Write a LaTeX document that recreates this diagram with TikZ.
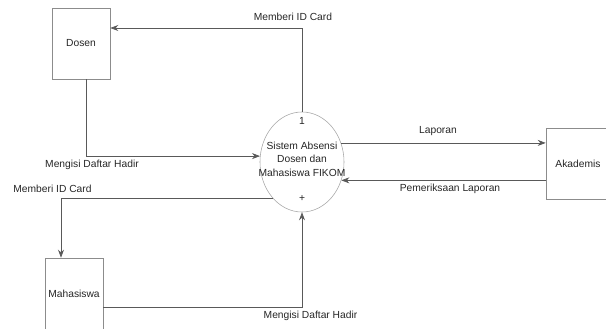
\documentclass[tikz,border=0pt]{standalone}
\usepackage{fontspec}
\setmainfont{Liberation Sans}
\usetikzlibrary{arrows.meta, calc, positioning, shapes.geometric}

\begin{document}
\begin{tikzpicture}[
    x=0.025cm, y=-0.025cm,
    font=\fontsize{7.3}{9}\selectfont,
    entity/.style={
        draw=black!45, fill=white,
        minimum width=1.45cm, minimum height=1.775cm,
        inner sep=0pt, align=center, text=black!85
    },
    process/.style={
        ellipse, draw=black!35, fill=white,
        minimum width=2.1cm, minimum height=2.5cm,
        inner sep=0pt
    },
    flow/.style={
        -{Stealth[length=2mm, width=1.5mm]}, black!65, line width=0.5pt
    },
    flowlabel/.style={text=black!85, inner sep=0pt}
]
\useasboundingbox (0,0) rectangle (606,329);

\node[entity] (dosen) at (81,43.5) {Dosen};
\node[entity] (mhs) at (74,293.5) {Mahasiswa};
\node[entity, minimum width=1.6cm] (akad) at (578,163.5) {Akademis};

\node[process] (proc) at (302,162) {};
\node[flowlabel] (pnum) at (302,121) {1};
\node[flowlabel, align=center] (pname) at (302,159)
    {Sistem Absensi\\[0.5pt]Dosen dan\\[0.5pt]Mahasiswa FIKOM};
\node[flowlabel] (pplus) at (302,199) {+};

\draw[flow] (proc.north) |- ([yshift=0.3875cm]dosen.east);
\draw[flow] ([xshift=0.125cm]dosen.south) |- (proc.172);
\draw[flow] (proc.26) -- (proc.26 -| akad.west);
\draw[flow] (proc.-25 -| akad.west) -- (proc.-25);
\draw[flow] (proc.231) -| ([xshift=-0.325cm]mhs.north);
\draw[flow] ([yshift=-0.3375cm]mhs.east) -| (proc.south);

\node[flowlabel] (l1) at (293,17) {Memberi ID Card};
\node[flowlabel] (l2) at (92,165) {Mengisi Daftar Hadir};
\node[flowlabel] (l3) at (438,131) {Laporan};
\node[flowlabel] (l4) at (450,189) {Pemeriksaan Laporan};
\node[flowlabel] (l5) at (52.5,189) {Memberi ID Card};
\node[flowlabel] (l6) at (310.5,316) {Mengisi Daftar Hadir};
\end{tikzpicture}
\end{document}
